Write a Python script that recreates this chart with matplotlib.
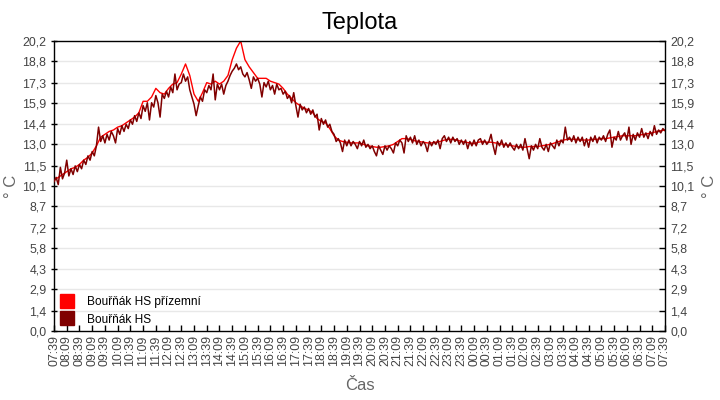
import matplotlib
matplotlib.use("Agg")
import matplotlib.pyplot as plt
from matplotlib.lines import Line2D
import numpy as np

plt.rcParams['font.family'] = ['Liberation Sans', 'DejaVu Sans']

# ---- data ----
# dark series (Bouřňák HS): 5-minute samples, one row per hour from 07:39
hs_values = [
    10.4, 10.7, 10.2, 11.4, 10.6, 11.0, 11.9, 10.8, 11.3, 10.9, 11.5, 11.1,
    11.6, 11.3, 11.9, 11.6, 12.2, 11.9, 12.5, 12.2, 12.9, 14.2, 13.2, 13.6,
    13.1, 13.7, 13.3, 13.9, 13.6, 13.1, 14.1, 13.7, 14.3, 13.9, 14.4, 14.1,
    14.7, 14.4, 15.0, 14.6, 15.2, 14.8, 15.7, 15.3, 15.9, 14.7, 15.9, 15.6,
    16.4, 15.9, 14.9, 16.5, 16.2, 16.7, 16.3, 17.0, 16.6, 17.9, 16.8, 17.2,
    17.3, 17.9, 17.4, 17.7, 16.8, 16.3, 15.8, 15.0, 15.7, 16.3, 16.0, 16.8,
    16.6, 17.1, 16.8, 17.9, 16.1, 17.2, 16.8, 17.2, 16.5, 17.1, 17.4, 17.8,
    18.1, 18.3, 18.6, 18.2, 18.4, 17.9, 17.7, 18.0, 17.5, 16.9, 17.7, 17.4,
    17.6, 17.2, 16.3, 17.3, 17.0, 17.4, 16.8, 17.1, 16.5, 17.2, 16.8, 16.9,
    16.5, 16.7, 16.2, 16.4, 15.9, 16.6, 15.7, 14.9, 15.8, 15.4, 15.6, 15.2,
    15.5, 15.1, 15.4, 14.9, 15.1, 14.0, 14.8, 14.4, 14.7, 14.2, 14.4, 13.9,
    13.7, 13.2, 13.4, 13.1, 12.5, 13.3, 12.9, 13.3, 12.9, 13.2, 13.0, 12.7,
    13.2, 12.9, 13.3, 12.8, 13.0, 12.7, 12.9, 12.5, 12.2, 12.9, 12.6, 12.3,
    12.9, 12.6, 12.9, 12.7, 12.4, 13.1, 12.9, 13.3, 13.1, 12.4, 13.6, 13.2,
    13.5, 13.1, 13.6, 13.0, 13.3, 12.9, 13.2, 13.0, 12.5, 13.2, 12.9, 13.2,
    13.0, 13.3, 12.7, 13.4, 13.6, 13.2, 13.5, 13.1, 13.5, 13.2, 13.4, 13.0,
    13.3, 13.0, 13.3, 12.7, 13.2, 12.9, 13.3, 12.9, 13.3, 13.4, 13.0, 13.3,
    13.0, 13.2, 13.7, 12.9, 12.3, 13.2, 12.9, 13.3, 12.8, 13.1, 12.8, 13.1,
    12.8, 12.6, 13.0, 12.7, 13.0, 12.6, 13.4, 12.7, 12.0, 12.9, 12.6, 13.0,
    12.7, 13.4, 12.8, 12.6, 13.0, 12.5, 13.1, 12.9, 12.7, 13.3, 12.9, 13.3,
    13.1, 14.2, 13.3, 13.5, 13.2, 13.6, 13.1, 13.5, 13.2, 13.5, 12.9, 13.4,
    12.8, 13.5, 13.2, 13.6, 13.1, 13.5, 13.3, 13.6, 13.2, 13.7, 14.0, 12.8,
    13.5, 13.3, 13.9, 13.3, 13.6, 13.8, 13.3, 14.2, 13.0, 13.7, 13.3, 13.8,
    13.5, 14.1, 13.5, 13.8, 13.4, 13.9, 13.6, 14.3, 13.7, 14.0, 13.8, 14.1,
    13.95,
]

# red series (Bouřňák HS přízemní): 10-minute samples, one row per hour
prizemni_values = [
    10.5, 10.7, 10.9, 11.1, 11.3, 11.4,
    11.6, 11.9, 12.1, 12.4, 12.9, 13.5,
    13.7, 13.9, 14.0, 14.2, 14.3, 14.5,
    14.7, 14.9, 15.2, 16.0, 16.0, 16.3,
    16.9, 16.6, 16.5, 16.9, 17.2, 17.3,
    17.9, 18.6, 17.8, 16.5, 16.0, 16.6,
    17.3, 17.2, 17.4, 17.2, 17.4, 17.8,
    18.9, 19.7, 20.2, 18.9, 18.4, 18.0,
    17.6, 17.6, 17.6, 17.4, 17.3, 17.2,
    16.9, 16.5, 16.2, 15.9, 15.7, 15.5,
    15.4, 15.2, 14.8, 14.6, 14.5, 14.1,
    13.6, 13.3, 13.2, 13.15, 13.1, 13.1,
    13.1, 13.0, 12.9, 12.85, 12.8, 12.8,
    12.85, 12.9, 13.0, 13.2, 13.4, 13.4,
    13.35, 13.25, 13.2, 13.15, 13.1, 13.1,
    13.15, 13.2, 13.3, 13.35, 13.35, 13.3,
    13.2, 13.15, 13.1, 13.05, 13.15, 13.2,
    13.15, 13.15, 13.1, 13.05, 13.0, 12.95,
    12.9, 12.85, 12.8, 12.8, 12.85, 12.85,
    12.85, 12.9, 12.95, 13.0, 13.1, 13.2,
    13.3, 13.35, 13.35, 13.35, 13.3, 13.3,
    13.3, 13.35, 13.35, 13.4, 13.4, 13.45,
    13.5, 13.55, 13.6, 13.6, 13.6, 13.6,
    13.65, 13.7, 13.75, 13.8, 13.9, 13.95,
    14.0,
]

hs_minutes = np.arange(len(hs_values)) * 5          # minutes since 07:39
prizemni_minutes = np.arange(len(prizemni_values)) * 10

x_tick_labels = [
    "07:39", "08:09", "08:39", "09:09", "09:39", "10:09", "10:39", "11:09",
    "11:39", "12:09", "12:39", "13:09", "13:39", "14:09", "14:39", "15:09",
    "15:39", "16:09", "16:39", "17:09", "17:39", "18:09", "18:39", "19:09",
    "19:39", "20:09", "20:39", "21:09", "21:39", "22:09", "22:39", "23:09",
    "23:39", "00:09", "00:39", "01:09", "01:39", "02:09", "02:39", "03:09",
    "03:39", "04:09", "04:39", "05:09", "05:39", "06:09", "06:39", "07:09",
    "07:39",
]
x_tick_minutes = [30 * i for i in range(len(x_tick_labels))]

y_ticks = [0.0, 1.4, 2.9, 4.3, 5.8, 7.2, 8.7, 10.1, 11.5, 13.0, 14.4, 15.9, 17.3, 18.8, 20.2]
y_tick_labels = ["0,0", "1,4", "2,9", "4,3", "5,8", "7,2", "8,7", "10,1", "11,5",
                 "13,0", "14,4", "15,9", "17,3", "18,8", "20,2"]

series_names = ["Bouřňák HS přízemní", "Bouřňák HS"]
series_colors = ["#FF0000", "#800000"]

# ---- figure ----
fig = plt.figure(figsize=(7.2, 4.0), dpi=100)
ax = fig.add_axes([54 / 720, 69 / 400, 611 / 720, 290 / 400])

for y in y_ticks[1:-1]:
    ax.axhline(y, color="#E8E8E8", lw=1.0, zorder=0)

ax.plot(prizemni_minutes, prizemni_values, color=series_colors[0], lw=1.0, zorder=2)
ax.plot(hs_minutes, hs_values, color=series_colors[1], lw=1.1, zorder=3)

ax.set_xlim(0, 1440)
ax.set_ylim(0, 20.2)

tick_color = "#444444"
tick_fs = 8.9
ax.set_xticks(x_tick_minutes)
ax.set_xticklabels(x_tick_labels, rotation=90, fontsize=tick_fs, color=tick_color)
ax.set_yticks(y_ticks)
ax.set_yticklabels(y_tick_labels, fontsize=tick_fs, color=tick_color)

ax.tick_params(axis="x", direction="in", length=4, width=1, pad=3)
ax.tick_params(axis="y", direction="inout", length=5, width=1, pad=3)

for s in ax.spines.values():
    s.set_color("black")
    s.set_linewidth(1.0)

ax2 = ax.twinx()
ax2.set_ylim(0, 20.2)
ax2.set_yticks(y_ticks)
ax2.set_yticklabels(y_tick_labels, fontsize=tick_fs, color=tick_color)
ax2.tick_params(axis="y", direction="in", length=4, width=1, pad=4)
for s in ax2.spines.values():
    s.set_visible(False)

ax.set_ylabel("° C", fontsize=12, color="#666666", labelpad=2)
ax2.set_ylabel("° C", fontsize=12, color="#666666", labelpad=5)
ax.set_xlabel("Čas", fontsize=12, color="#666666", labelpad=8)

fig.text(0.5, 1 - 23 / 400, "Teplota", ha="center", va="center", fontsize=17, color="black")

handles = [Line2D([], [], ls="none", marker="s", markersize=10, color=c) for c in series_colors]
leg = ax.legend(handles, series_names, loc="lower left", bbox_to_anchor=(0.0, 0.0),
                frameon=False, fontsize=8.6, handlelength=1.3, handletextpad=1.0,
                labelspacing=0.45, borderpad=0.3, borderaxespad=0.15)

fig.savefig("out.png", dpi=100)
